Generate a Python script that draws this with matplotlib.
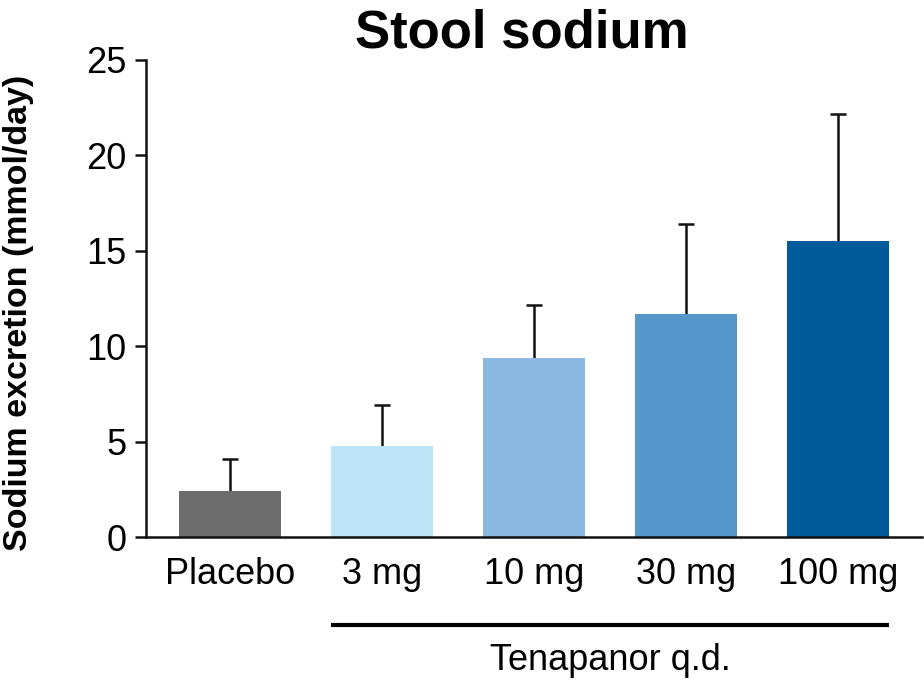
import matplotlib
matplotlib.use("Agg")
import matplotlib.pyplot as plt
import matplotlib.transforms as mtransforms

# data
groups = ["Placebo", "3 mg", "10 mg", "30 mg", "100 mg"]
means = [2.4, 4.8, 9.4, 11.7, 15.5]
upper_err = [1.7, 2.1, 2.75, 4.7, 6.65]
colors = ["#6d6d6d", "#bde3f7", "#8bb9e2", "#5596cb", "#005b9a"]
yticks = [0, 5, 10, 15, 20, 25]

plt.rcParams['font.family'] = ['Liberation Sans', 'DejaVu Sans']

fig = plt.figure(figsize=(9.24, 6.8), dpi=100)
ax = fig.add_axes([0.158, 0.21, 0.84, 0.702])

x = list(range(len(groups)))
bar_w = 0.67
ax.bar(x, means, width=bar_w, color=colors, zorder=2)
eb = ax.errorbar(x, means, yerr=[[0] * len(means), upper_err], fmt="none",
                 ecolor="#111111", elinewidth=1.8, capsize=5.5, capthick=1.8, zorder=1)
# only keep the upper cap
eb[1][0].set_visible(False)

ax.set_xlim(-0.553, 4.553)
ax.set_ylim(0, 25)
ax.set_yticks(yticks)
ax.set_xticks(x)
ax.set_xticklabels(groups)

ax.spines['top'].set_visible(False)
ax.spines['right'].set_visible(False)
for s in ['left', 'bottom']:
    ax.spines[s].set_linewidth(1.8)
    ax.spines[s].set_color("#111111")

ax.tick_params(axis='y', length=8, width=1.8, labelsize=26, pad=6, color="#111111")
ax.tick_params(axis='x', length=0, labelsize=26, pad=14)

ax.set_ylabel("Sodium excretion (mmol/day)", fontsize=24.5, fontweight='bold')
ax.yaxis.set_label_coords(-0.144, 0.47)

fig.text(0.565, 0.93, "Stool sodium", fontsize=38, fontweight='bold', ha='center', va='baseline')

# bracket under the tenapanor doses
trans = mtransforms.blended_transform_factory(ax.transData, ax.transAxes)
ax.plot([1 - bar_w / 2, 4 + bar_w / 2], [-0.184, -0.184], color="black", lw=3,
        transform=trans, clip_on=False, solid_capstyle='butt')
ax.text(2.5, -0.258, "Tenapanor q.d.", fontsize=26, ha='center', va='center',
        transform=trans)

fig.savefig("out.png", dpi=100)
